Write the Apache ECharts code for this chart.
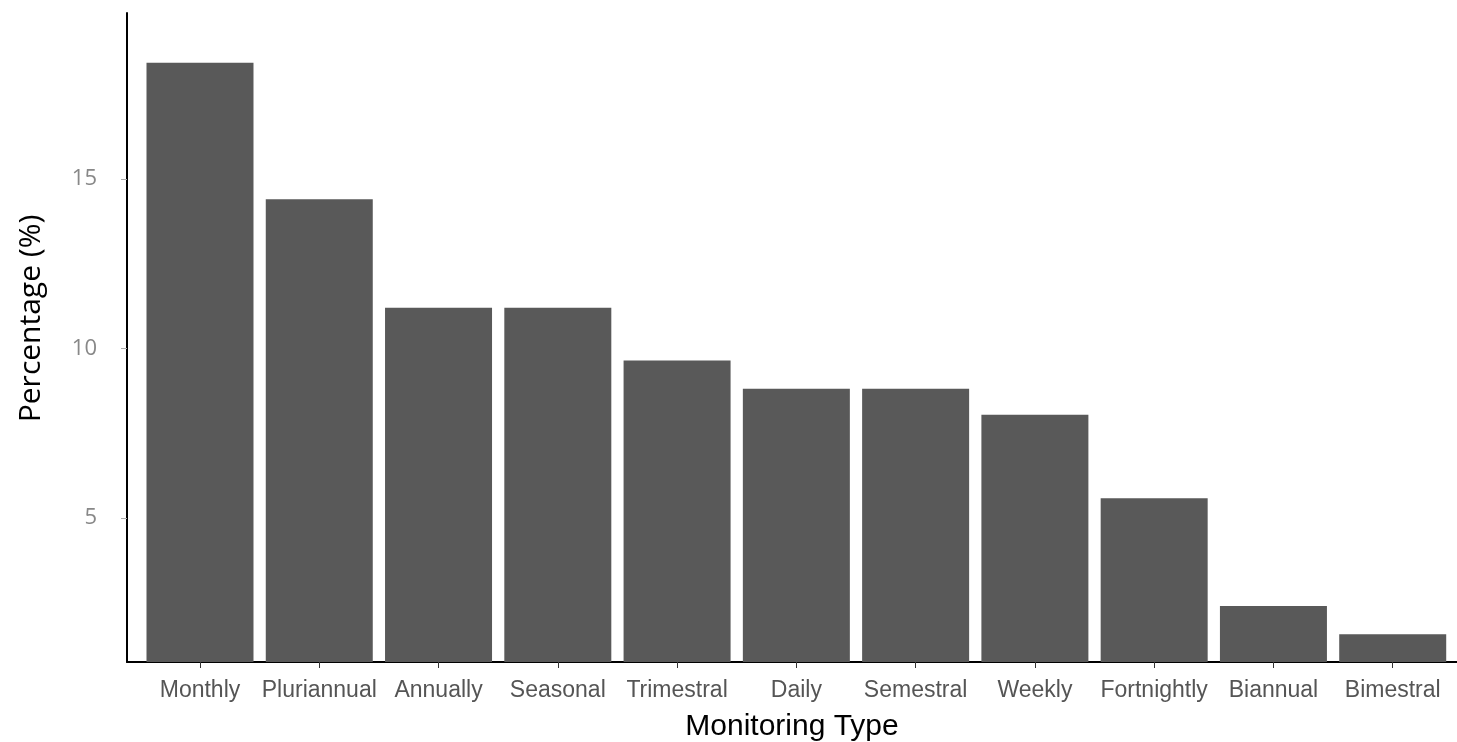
<!DOCTYPE html>
<html>
<head>
<meta charset="utf-8">
<script src="https://cdn.jsdelivr.net/npm/echarts@6/dist/echarts.min.js"></script>
<style>
    html, body { margin: 0; padding: 0; background: #fff; }
    #container { width: 1457px; height: 742px; }
</style>
</head>
<body>
<div id="container"></div>
<script>
// 类别和数值, 从图上读出来的
var categories = ['Monthly', 'Pluriannual', 'Annually', 'Seasonal', 'Trimestral', 'Daily',
    'Semestral', 'Weekly', 'Fortnightly', 'Biannual', 'Bimestral']
var percentages = [18.43, 14.41, 11.21, 11.21, 9.65, 8.82, 8.82, 8.05, 5.59, 2.41, 1.58]
var yTicks = [5, 10, 15]

// x 用数值轴, 1..n 对应类别
var barData = function () {
    var data = []
    for (let i = 0; i < categories.length; i++) {
        data.push([i + 1, percentages[i]])
    }
    return data
}

var positions = categories.map((c, i) => i + 1)

const chartInit = function () {
    var myChart = echarts.init(document.getElementById('container'))

    var option = {
        animation: false,
        grid: {
            left: 127,
            right: 0,
            top: 13,
            bottom: 80,
            outerBoundsMode: 'none',
        },
        xAxis: {
            type: 'value',
            min: 0.388,
            max: 11.539,
            name: 'Monitoring Type',
            nameLocation: 'middle',
            nameGap: 50,
            nameTextStyle: {
                color: '#000',
                fontSize: 30,
                fontFamily: 'Liberation Sans',
            },
            axisLine: { show: true, lineStyle: { color: '#000', width: 2 } },
            axisTick: {
                show: true,
                customValues: positions,
                length: 6,
                lineStyle: { color: '#333' },
            },
            axisLabel: {
                customValues: positions,
                margin: 17,
                color: '#555',
                fontSize: 23,
                fontFamily: 'Liberation Sans',
                formatter: function (v) {
                    return categories[Math.round(v) - 1]
                },
            },
            splitLine: { show: false },
        },
        yAxis: {
            type: 'value',
            min: 0.76,
            max: 19.9,
            name: 'Percentage (%)',
            nameLocation: 'middle',
            nameRotate: 90,
            nameGap: 81,
            nameTextStyle: {
                color: '#000',
                fontSize: 30,
                fontFamily: 'Open Sans',
                // 标题比中间略高
                padding: [0, 0, 0, 38],
            },
            axisLine: { show: true, lineStyle: { color: '#000', width: 2 } },
            axisTick: {
                show: true,
                customValues: yTicks,
                length: 6,
                lineStyle: { color: '#aaa' },
            },
            axisLabel: {
                customValues: yTicks,
                margin: 30,
                color: '#888',
                fontSize: 22,
                fontFamily: 'Open Sans',
            },
            splitLine: { show: false },
        },
        series: [{
            type: 'bar',
            barWidth: 107,
            itemStyle: { color: '#595959' },
            data: barData(),
        }],
    }

    myChart.setOption(option, true)
}

chartInit()
</script>
</body>
</html>
